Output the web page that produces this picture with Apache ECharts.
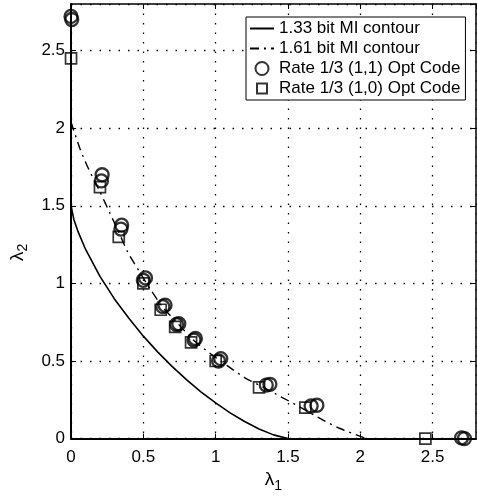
<!DOCTYPE html>
<html>
<head>
<meta charset="utf-8">
<script src="https://cdn.jsdelivr.net/npm/echarts@6/dist/echarts.min.js"></script>
<style>
  html, body { margin: 0; padding: 0; background: #fff; }
  #chart { width: 477px; height: 498px; }
</style>
</head>
<body>
<div id="chart"></div>
<script>
// Axis ticks
const xTicks = [0, 0.5, 1, 1.5, 2, 2.5];
const yTicks = [0, 0.5, 1, 1.5, 2, 2.5];

// 1.33 bit mutual-information contour
const contour133X = [0, 0.02, 0.05, 0.1, 0.2, 0.3, 0.4, 0.5, 0.6, 0.7, 0.8, 0.9, 1.0, 1.1, 1.2, 1.3, 1.4, 1.5];
const contour133Y = [1.5, 1.41, 1.33, 1.22, 1.045, 0.9, 0.775, 0.66, 0.557, 0.464, 0.378, 0.3, 0.23, 0.166, 0.11, 0.062, 0.024, 0];

// 1.61 bit mutual-information contour
const contour161X = [0, 0.065, 0.12, 0.2, 0.27, 0.33, 0.393, 0.47, 0.55, 0.64, 0.74, 0.84, 0.96, 1.08, 1.2, 1.33, 1.45, 1.59, 1.74, 1.86, 2.04];
const contour161Y = [2.04, 1.86, 1.74, 1.59, 1.45, 1.33, 1.2, 1.08, 0.96, 0.84, 0.74, 0.64, 0.55, 0.47, 0.393, 0.33, 0.27, 0.2, 0.12, 0.065, 0];

// Rate 1/3 (1,1) optimised codes
const code11X = [0, 0.005, 0.215, 0.21, 0.35, 0.345, 0.515, 0.5, 0.65, 0.635, 0.745, 0.73, 0.86, 0.85, 1.035, 1.02, 1.375, 1.35, 1.7, 1.66, 2.72, 2.7];
const code11Y = [2.72, 2.7, 1.7, 1.66, 1.375, 1.35, 1.035, 1.02, 0.86, 0.85, 0.74, 0.735, 0.645, 0.635, 0.515, 0.5, 0.35, 0.345, 0.215, 0.21, 0, 0.005];

// Rate 1/3 (1,0) optimised codes
const code10X = [0, 0.2, 0.33, 0.5, 0.62, 0.72, 0.83, 1.0, 1.3, 1.62, 2.45];
const code10Y = [2.45, 1.62, 1.3, 1.0, 0.83, 0.72, 0.62, 0.5, 0.33, 0.2, 0];

const seriesNames = ['1.33 bit MI contour', '1.61 bit MI contour', 'Rate 1/3 (1,1) Opt Code', 'Rate 1/3 (1,0) Opt Code'];

const zip = (xs, ys) => xs.map((x, i) => [x, ys[i]]);
const FONT = '"Liberation Sans", Arial, Helvetica, sans-serif';

const chart = echarts.init(document.getElementById('chart'));

const tickLabel = { color: '#000', fontFamily: FONT, fontSize: 17 };
const dotted = { show: true, lineStyle: { color: '#000', type: [1.5, 8], width: 1.3 } };
const subName = {
  l: { fontFamily: FONT, fontSize: 19, color: '#000' },
  s: { fontFamily: FONT, fontSize: 14, color: '#000', verticalAlign: 'bottom', padding: [12, 0, 0, 0] }
};
// square marker icon padded to the legend item box so it keeps its aspect
const squareIcon = 'path://M0,0L0,0M24,13L24,13M7,1.5L17,1.5L17,11.5L7,11.5Z';

chart.setOption({
  animation: false,
  backgroundColor: '#fff',
  grid: { left: 61, top: 4, right: 1, bottom: 54.5, containLabel: false },
  legend: {
    orient: 'vertical',
    left: 246,
    top: 17,
    padding: [3, 5, 3, 3],
    backgroundColor: '#fff',
    borderColor: '#000',
    borderWidth: 1,
    borderRadius: 0,
    itemWidth: 24,
    itemHeight: 13,
    itemGap: 3,
    textStyle: { color: '#000', fontFamily: FONT, fontSize: 17, lineHeight: 17 },
    data: [
      { name: seriesNames[0], itemStyle: { opacity: 0 } },
      { name: seriesNames[1], itemStyle: { opacity: 0 } },
      { name: seriesNames[2] },
      { name: seriesNames[3], icon: squareIcon }
    ]
  },
  xAxis: [
    {
      type: 'value', min: 0, max: 2.8, interval: 0.5,
      position: 'bottom',
      name: '{l|λ}{s|1}', nameLocation: 'middle', nameGap: 27,
      nameTextStyle: { rich: subName },
      axisLine: { show: true, onZero: false, lineStyle: { color: '#000', width: 2 } },
      axisTick: { show: true, inside: true, length: 5, lineStyle: { color: '#000', width: 1 } },
      axisLabel: { ...tickLabel, margin: 10, showMaxLabel: false,
        formatter: v => (xTicks.includes(v) ? String(v) : '') },
      splitLine: dotted
    },
    {
      type: 'value', min: 0, max: 2.8, interval: 0.5,
      position: 'top',
      axisLine: { show: true, onZero: false, lineStyle: { color: '#000', width: 1.5 } },
      axisTick: { show: true, inside: true, length: 5, lineStyle: { color: '#000', width: 1 } },
      axisLabel: { show: false },
      splitLine: { show: false }
    }
  ],
  yAxis: [
    {
      type: 'value', min: 0, max: 2.8, interval: 0.5,
      position: 'left',
      name: '{l|λ}{s|2}', nameLocation: 'middle', nameGap: 38, nameRotate: 90,
      nameTextStyle: { rich: subName, padding: [0, 62, 0, 0] },
      axisLine: { show: true, onZero: false, lineStyle: { color: '#000', width: 2 } },
      axisTick: { show: true, inside: true, length: 5, lineStyle: { color: '#000', width: 1 } },
      axisLabel: { ...tickLabel, margin: 6, showMaxLabel: false,
        formatter: v => (yTicks.includes(v) ? String(v) : '') },
      splitLine: dotted
    },
    {
      type: 'value', min: 0, max: 2.8, interval: 0.5,
      position: 'right',
      axisLine: { show: true, onZero: false, lineStyle: { color: '#000', width: 1.5 } },
      axisTick: { show: true, inside: true, length: 5, lineStyle: { color: '#000', width: 1 } },
      axisLabel: { show: false },
      splitLine: { show: false }
    }
  ],
  series: [
    {
      name: seriesNames[0], type: 'line', smooth: false, symbol: 'none',
      color: '#000',
      lineStyle: { color: '#000', width: 1.6 },
      data: zip(contour133X, contour133Y), z: 3
    },
    {
      name: seriesNames[1], type: 'line', smooth: 0.25, symbol: 'none',
      color: '#000',
      lineStyle: { color: '#000', width: 1.4, type: [9, 5, 2, 5] },
      data: zip(contour161X, contour161Y), z: 3
    },
    {
      name: seriesNames[3], type: 'scatter', symbol: 'rect', symbolSize: 11,
      clip: false,
      itemStyle: { color: 'rgba(0,0,0,0)', borderColor: '#000', borderWidth: 1.7 },
      data: zip(code10X, code10Y), z: 4
    },
    {
      name: seriesNames[2], type: 'scatter', symbol: 'circle', symbolSize: 13,
      clip: false,
      itemStyle: { color: 'rgba(0,0,0,0)', borderColor: '#000', borderWidth: 2.3 },
      data: zip(code11X, code11Y), z: 5
    }
  ]
});
</script>
</body>
</html>
